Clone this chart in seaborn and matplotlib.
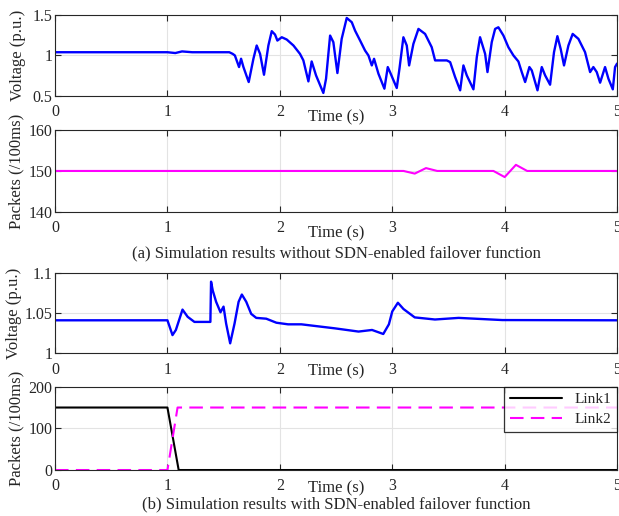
import numpy as np
import pandas as pd
import matplotlib
matplotlib.use("Agg")
import matplotlib.pyplot as plt
import seaborn as sns

# (a) voltage without failover
t_va = [0.0, 1.0, 1.07, 1.13, 1.22, 1.47, 1.55, 1.58, 1.60, 1.637, 1.655, 1.676, 1.723,
        1.765, 1.794, 1.824, 1.859, 1.898, 1.928, 1.957, 1.978, 2.017, 2.061, 2.121,
        2.179, 2.209, 2.254, 2.283, 2.322, 2.387, 2.411, 2.447, 2.476, 2.512, 2.55,
        2.595, 2.64, 2.669, 2.714, 2.758, 2.788, 2.818, 2.838, 2.877, 2.93, 2.96,
        2.98, 3.04, 3.064, 3.099, 3.129, 3.15, 3.188, 3.233, 3.292, 3.351, 3.381,
        3.455, 3.485, 3.515, 3.559, 3.604, 3.633, 3.663, 3.722, 3.752, 3.781, 3.826,
        3.847, 3.885, 3.915, 3.944, 3.989, 4.033, 4.078, 4.122, 4.152, 4.182, 4.22,
        4.241, 4.292, 4.33, 4.36, 4.404, 4.439, 4.469, 4.498, 4.528, 4.567, 4.605,
        4.656, 4.715, 4.76, 4.789, 4.819, 4.849, 4.893, 4.923, 4.962, 4.982, 5.0]
v_va = [1.04, 1.04, 1.03, 1.05, 1.04, 1.04, 1.04, 1.02, 1.0, 0.857, 0.96, 0.857, 0.672,
        0.96, 1.123, 1.02, 0.762, 1.123, 1.30, 1.258, 1.184, 1.225, 1.197, 1.123,
        1.02, 0.94, 0.68, 0.926, 0.754, 0.537, 0.713, 1.246, 1.164, 0.783, 1.205,
        1.463, 1.41, 1.307, 1.184, 1.061, 1.0, 0.877, 0.959, 0.775, 0.59, 0.857,
        0.795, 0.598, 0.836, 1.225, 1.123, 0.877, 1.143, 1.328, 1.266, 1.102, 0.939,
        0.939, 0.939, 0.918, 0.734, 0.57, 0.877, 0.754, 0.582, 0.98, 1.225, 1.02,
        0.795, 1.164, 1.328, 1.348, 1.246, 1.102, 1.0, 0.926, 0.795, 0.672, 0.857,
        0.816, 0.57, 0.857, 0.754, 0.639, 1.041, 1.238, 1.082, 0.877, 1.123, 1.266,
        1.205, 1.041, 0.795, 0.857, 0.795, 0.664, 0.857, 0.713, 0.582, 0.857, 0.90]

# (a) packets without failover
t_pa = [0.0, 3.1, 3.2, 3.3, 3.4, 3.9, 4.0, 4.1, 4.2, 5.0]
p_pa = [150, 150, 149.35, 150.7, 150, 150, 148.5, 151.5, 150, 150]

# (b) voltage with failover
t_vb = [0.0, 1.0, 1.045, 1.075, 1.134, 1.18, 1.24, 1.382, 1.388, 1.403, 1.433, 1.472,
        1.499, 1.522, 1.558, 1.597, 1.633, 1.662, 1.701, 1.745, 1.79, 1.879, 1.969,
        2.073, 2.192, 2.49, 2.70, 2.82, 2.92, 2.97, 3.0, 3.05, 3.1, 3.2, 3.38, 3.59,
        3.98, 5.0]
v_vb = [1.041, 1.041, 1.0226, 1.029, 1.0543, 1.0453, 1.039, 1.039, 1.089, 1.078, 1.064,
        1.051, 1.058, 1.037, 1.0124, 1.037, 1.064, 1.073, 1.064, 1.049, 1.044, 1.043,
        1.038, 1.036, 1.036, 1.031, 1.027, 1.029, 1.024, 1.036, 1.052, 1.0628, 1.055,
        1.0446, 1.042, 1.044, 1.0413, 1.041]

# (b) packets per link
t_l1 = [0.0, 1.0, 1.1, 5.0]
p_l1 = [150, 150, 0, 0]
t_l2 = [0.0, 1.0, 1.09, 5.0]
p_l2 = [0, 0, 150, 150]

x_ticks = [0, 1, 2, 3, 4, 5]
x_ticklabels = ["0", "1", "2", "3", "4", "5"]

sns.set_style("ticks")
plt.rcParams["font.family"] = ["Liberation Serif", "DejaVu Serif"]

fig = plt.figure(figsize=(6.19, 5.16), dpi=100)
L, W = 0.0889, 0.908
ax1 = fig.add_axes([L, 0.814, W, 0.157])
ax2 = fig.add_axes([L, 0.5897, W, 0.158])
ax3 = fig.add_axes([L, 0.3153, W, 0.156])
ax4 = fig.add_axes([L, 0.0891, W, 0.1615])

blue = "#0000ff"
mag = "#ff00ff"

sns.lineplot(data=pd.DataFrame({"t": t_va, "v": v_va}), x="t", y="v", ax=ax1,
             color=blue, lw=1.7, estimator=None)
sns.lineplot(data=pd.DataFrame({"t": t_pa, "p": p_pa}), x="t", y="p", ax=ax2,
             color=mag, lw=1.5, estimator=None)
sns.lineplot(data=pd.DataFrame({"t": t_vb, "v": v_vb}), x="t", y="v", ax=ax3,
             color=blue, lw=1.7, estimator=None)
sns.lineplot(x=t_l1, y=p_l1, ax=ax4, color="black", lw=1.5, estimator=None, label="Link1")
sns.lineplot(x=t_l2, y=p_l2, ax=ax4, color=mag, lw=1.5, estimator=None,
             dashes=False, label="Link2")
ax4.lines[-1].set_linestyle((0, (6.5, 3.5)))

yspecs = [
    (ax1, (0.5, 1.5), [0.5, 1, 1.5], ["0.5", "1", "1.5"], "Voltage (p.u.)", -0.066),
    (ax2, (140, 160), [140, 150, 160], ["140", "150", "160"], "Packets (/100ms)", -0.068),
    (ax3, (1.0, 1.1), [1.0, 1.05, 1.1], ["1", "1.05", "1.1"], "Voltage (p.u.)", -0.073),
    (ax4, (0, 200), [0, 100, 200], ["0", "100", "200"], "Packets (/100ms)", -0.068),
]
xlab_y = [-0.26, -0.26, -0.23, -0.22]

for (ax, ylim, yt, ytl, ylab, ylx), xly in zip(yspecs, xlab_y):
    ax.set_xlim(0, 5)
    ax.set_ylim(*ylim)
    ax.set_xticks(x_ticks)
    ax.set_xticklabels(x_ticklabels)
    ax.set_yticks(yt)
    ax.set_yticklabels(ytl)
    ax.grid(True, color="#e3e3e3", lw=0.8)
    ax.tick_params(direction="in", top=True, right=True, labelsize=11.5,
                   colors="#262626", length=4, width=0.8)
    ax.tick_params(axis="x", pad=6)
    ax.tick_params(axis="y", pad=2)
    for s in ax.spines.values():
        s.set_color("#262626")
        s.set_linewidth(0.8)
    ax.set_xlabel("Time (s)", fontsize=12)
    ax.xaxis.set_label_coords(0.5, xly)
    ax.xaxis.label.set_va("center")
    ax.set_ylabel(ylab, fontsize=12)
    ax.yaxis.set_label_coords(ylx, 0.5)
    ax.yaxis.label.set_va("center")

leg = ax4.legend(loc="upper right", fontsize=11, frameon=True, fancybox=False,
                 handlelength=3.4, borderaxespad=0.0, labelspacing=0.4)
leg.get_frame().set_edgecolor("black")
leg.get_frame().set_linewidth(0.9)

fig.text(0.543, 0.5097, "(a) Simulation results without SDN-enabled failover function",
         ha="center", va="center", fontsize=12)
fig.text(0.543, 0.0233, "(b) Simulation results with SDN-enabled failover function",
         ha="center", va="center", fontsize=12)

fig.savefig("out.png", dpi=100)
